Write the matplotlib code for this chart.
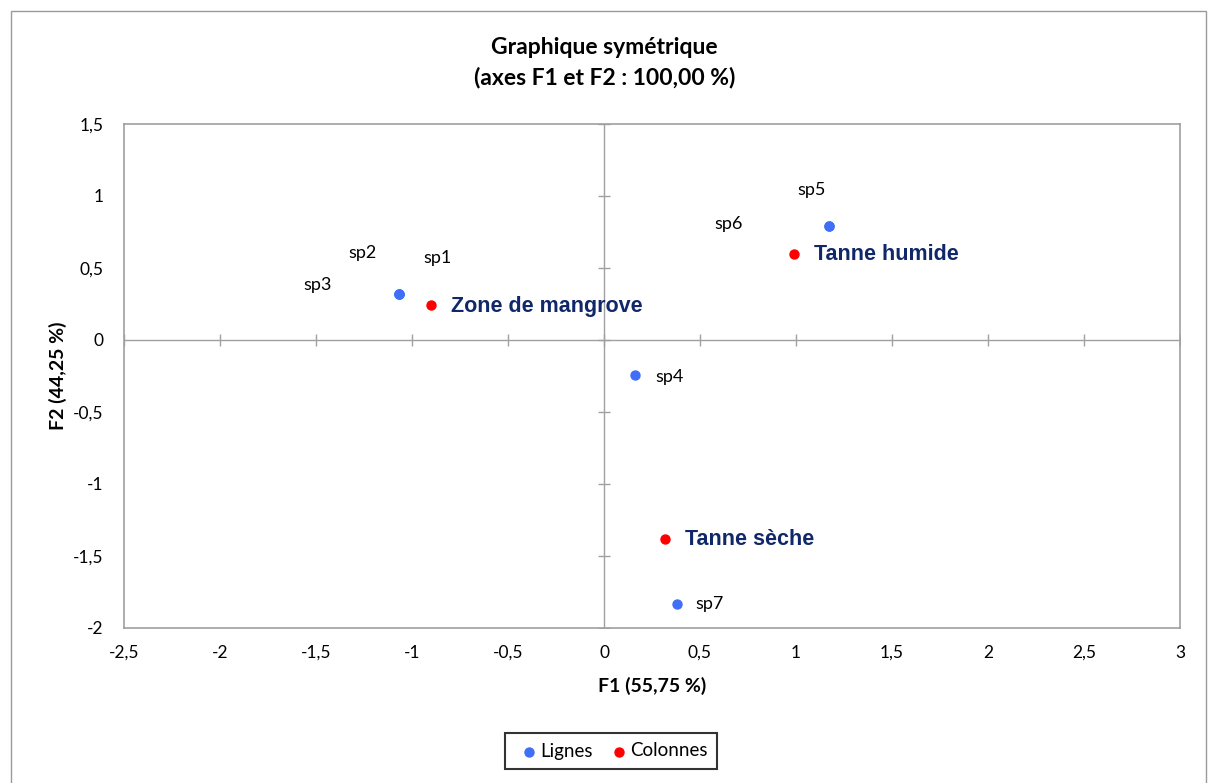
import matplotlib.pyplot as plt
from matplotlib.patches import Rectangle

# --- data ---
row_names = ['sp1', 'sp2', 'sp3', 'sp4', 'sp5', 'sp6', 'sp7']
row_f1 = [-1.07, -1.07, -1.07, 0.16, 1.17, 1.17, 0.38]
row_f2 = [0.32, 0.32, 0.32, -0.24, 0.79, 0.79, -1.83]

col_names = ['Zone de mangrove', 'Tanne humide', 'Tanne sèche']
col_f1 = [-0.90, 0.99, 0.32]
col_f2 = [0.24, 0.60, -1.38]

xticks = [-2.5, -2, -1.5, -1, -0.5, 0, 0.5, 1, 1.5, 2, 2.5, 3]
yticks = [-2, -1.5, -1, -0.5, 0, 0.5, 1, 1.5]

# label offsets in pixels (overlapping points -> labels spread out)
row_off = [(39, 36), (-36, 41), (-81, 9), (35, -2), (-17, 36), (-100, 2), (33, 0)]

BLUE = '#3f6ff5'
RED = '#ff0000'
NAVY = '#10286a'
GREY = '#a0a0a0'

plt.rcParams['font.family'] = ['Lato', 'DejaVu Sans']

fig = plt.figure(figsize=(12.09, 7.83), dpi=100)
ax = fig.add_axes([124 / 1209, 1 - 628 / 783, 1056 / 1209, 504 / 783])

# outer chart border
fig.patches.append(Rectangle((11 / 1209, -0.05), 1195 / 1209, 1 - 11 / 783 + 0.05,
                             transform=fig.transFigure, fill=False,
                             edgecolor='#9a9a9a', linewidth=1.0))

ax.set_xlim(-2.5, 3)
ax.set_ylim(-2, 1.5)
ax.set_xticks(xticks)
ax.set_yticks(yticks)
ax.set_xticklabels([f'{v:g}'.replace('.', ',') for v in xticks])
ax.set_yticklabels([f'{v:g}'.replace('.', ',') for v in yticks])
ax.tick_params(length=0, labelsize=12.5)
ax.tick_params(axis='x', pad=12)
ax.tick_params(axis='y', pad=15)
for s in ax.spines.values():
    s.set_color(GREY)
    s.set_linewidth(1.2)

# zero axes with cross ticks
ax.axhline(0, color=GREY, lw=1.0, zorder=1)
ax.axvline(0, color=GREY, lw=1.0, zorder=1)
ax.plot(xticks, [0] * len(xticks), ls='none', marker='|', ms=8, mew=1.0, color=GREY, zorder=1)
ax.plot([0] * len(yticks), yticks, ls='none', marker='_', ms=8, mew=1.0, color=GREY, zorder=1)

ax.scatter(row_f1, row_f2, s=42, color=BLUE, zorder=3, label='Lignes')
ax.scatter(col_f1, col_f2, s=42, color=RED, zorder=3, label='Colonnes')

for name, x, y, off in zip(row_names, row_f1, row_f2, row_off):
    ax.annotate(name, (x, y), xytext=off, textcoords='offset pixels',
                ha='center', va='center', fontsize=13)
for name, x, y in zip(col_names, col_f1, col_f2):
    ax.annotate(name, (x, y), xytext=(20, -1), textcoords='offset pixels',
                ha='left', va='center', fontsize=15.5, fontweight='bold',
                color=NAVY, family=['Liberation Sans', 'DejaVu Sans'])

ax.set_xlabel('F1 (55,75 %)', fontsize=14, fontweight='bold', labelpad=12)
ax.set_ylabel('F2 (44,25 %)', fontsize=14, fontweight='bold', labelpad=4)

fig.text(0.5, 1 - 47 / 783, 'Graphique symétrique', ha='center', va='center',
         fontsize=16.5, fontweight='bold')
fig.text(0.5, 1 - 78 / 783, '(axes F1 et F2 : 100,00 %)', ha='center', va='center',
         fontsize=16.5, fontweight='bold')

leg = fig.legend(loc='center', bbox_to_anchor=(611 / 1209, 1 - 751 / 783), ncol=2,
                 fontsize=13.5, frameon=True, fancybox=False, handletextpad=-0.2,
                 columnspacing=0.6, markerscale=1.0, borderpad=0.5, handlelength=1.6)
leg.get_frame().set_edgecolor('black')
leg.get_frame().set_linewidth(1.5)

fig.savefig('out.png', dpi=100)
